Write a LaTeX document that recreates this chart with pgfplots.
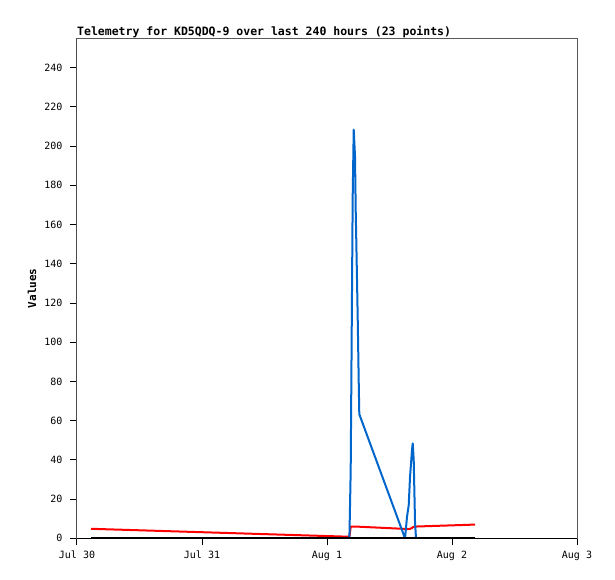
\documentclass[border=0pt]{standalone}
\usepackage{pgfplots}
\pgfplotsset{compat=1.18}
\usepackage{fontspec}
\setmainfont{DejaVu Sans Mono}
\definecolor{tblue}{RGB}{0,102,204}
\definecolor{tred}{RGB}{255,0,0}
\begin{document}
\begin{tikzpicture}
\begin{axis}[
 at={(0,0)}, anchor=south west,
 scale only axis, width=500pt, height=500pt,
 xmin=0, xmax=96, ymin=0, ymax=255,
 xtick={0,24,48,72,96}, xticklabels={Jul 30,Jul 31,Aug 1,Aug 2,Aug 3},
 ytick={0,20,...,240},
 tick pos=left, tick align=outside, major tick length=7pt,
 tick style={black, line width=1pt},
 axis line style={draw=black!65, line width=1pt},
 ticklabel style={font=\fontsize{10}{12}\selectfont},
 yticklabel style={xshift=-4pt},
 xticklabel style={yshift=-2pt},
 /pgf/number format/assume math mode=true,
 ylabel={Values},
 ylabel style={font=\bfseries\fontsize{11}{13}\selectfont, at={(axis description cs:-0.09,0.5)}, anchor=center},
 title={Telemetry for KD5QDQ-9 over last 240 hours (23 points)},
 every axis title shift=0pt,
 title style={font=\bfseries\fontsize{11.5}{13}\selectfont, at={(axis description cs:0,1)}, anchor=base west, yshift=3pt, inner sep=0pt},
 every axis plot/.append style={line width=2pt, line join=round},
]
\coordinate (O) at (rel axis cs:0,0);
\addplot[tred] coordinates {
(2.69,4.85) (52.3,0.8) (52.55,5.9) (52.74,5.9) (52.93,5.9) (53.13,5.9) (53.38,5.9) (53.51,5.9) (53.70,5.9) (53.90,5.9) (54.09,5.9) (54.20,5.9) (62.98,4.8) (63.36,4.7) (63.69,4.7) (63.94,4.8) (64.13,5.0) (64.32,5.3) (64.46,5.6) (64.65,5.8) (64.90,6.0) (65.09,6.0) (76.42,7.0)
};
\addplot[tblue] coordinates {
(2.69,0) (52.3,0) (52.55,34.7) (52.74,104) (52.93,173.6) (53.13,208.4) (53.38,194.7) (53.51,167.5) (53.70,141) (53.90,111.8) (54.09,79.8) (54.20,63.3) (62.98,0) (63.36,10.9) (63.69,16.9) (63.94,31.3) (64.13,38.1) (64.32,45) (64.46,48.4) (64.65,39.8) (64.90,8.3) (65.09,0) (76.42,0)
};
\addplot[black] coordinates {
(2.69,0) (52.3,0) (52.55,0) (52.74,0) (52.93,0) (53.13,0) (53.38,0) (53.51,0) (53.70,0) (53.90,0) (54.09,0) (54.20,0) (62.98,0) (63.36,0) (63.69,0) (63.94,0) (64.13,0) (64.32,0) (64.46,0) (64.65,0) (64.90,0) (65.09,0) (76.42,0)
};
\draw[black, line width=1pt] (rel axis cs:0,1) -- (rel axis cs:0,0) -- (rel axis cs:1,0);
\end{axis}
\pgfresetboundingbox
\path (O) ++(-77pt,-40.7pt) rectangle ++(615pt,579pt);
\end{tikzpicture}
\end{document}
